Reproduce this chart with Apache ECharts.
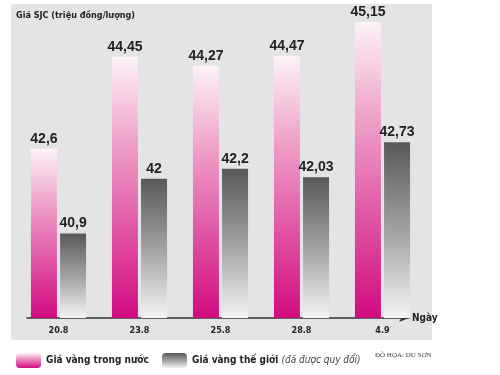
<!DOCTYPE html>
<html><head><meta charset="utf-8">
<script src="https://cdn.jsdelivr.net/npm/echarts@6/dist/echarts.min.js"></script>
<style>html,body{margin:0;padding:0;background:#fff}#c{width:500px;height:375px}</style>
</head><body><div id="c"></div>
<script>
var categories = ['20.8', '23.8', '25.8', '28.8', '4.9'];
var domestic = [42.6, 44.45, 44.27, 44.47, 45.15];
var world = [40.9, 42, 42.2, 42.03, 42.73];
var seriesNames = ['Giá vàng trong nước', 'Giá vàng thế giới'];

var FONT = '"DejaVu Sans Condensed", "Liberation Sans Narrow", sans-serif';
var LFONT = '"Liberation Sans", Arial, sans-serif';
var chart = echarts.init(document.getElementById('c'), null, {renderer: 'canvas'});
function fmt(p) { return String(p.value).replace('.', ','); }
var pinkGrad = new echarts.graphic.LinearGradient(0, 0, 0, 1, [
  {offset: 0, color: '#fdf3f8'}, {offset: 0.35, color: '#ee9bc6'}, {offset: 1, color: '#d10a80'}]);
var grayGrad = new echarts.graphic.LinearGradient(0, 0, 0, 1, [
  {offset: 0, color: '#58585a'}, {offset: 0.55, color: '#a9a9ab'}, {offset: 1, color: '#f4f4f4'}]);
var legendText = {fontFamily: FONT, fontWeight: 'bold', fontSize: 10, color: '#222',
  rich: {i: {fontStyle: 'italic', fontWeight: 'normal', fontSize: 10, color: '#444', fontFamily: FONT}}};
chart.setOption({
  animation: false,
  graphic: [
    {type: 'rect', shape: {x: 11, y: 4, width: 421, height: 336}, style: {fill: '#e4e4e6'}, z: -10},
    {type: 'text', left: 16, top: 11, style: {text: 'Giá SJC (triệu đồng/lượng)', font: 'bold 9px ' + FONT, fill: '#222'}},
    {type: 'text', left: 375, top: 352, style: {text: 'ĐỒ HỌA: DU SƠN', font: '7px "Liberation Serif", serif', fill: '#444'}}
  ],
  legend: [
    {left: 11, top: 348, itemWidth: 25, itemHeight: 15, data: [seriesNames[0]], textStyle: legendText},
    {left: 157, top: 348, itemWidth: 25, itemHeight: 15, data: [seriesNames[1]], textStyle: legendText,
      formatter: function (n) { return n + ' {i|(đã được quy đổi)}'; }}
  ],
  grid: [
    {left: 18, right: 77, top: 11, bottom: 57},
    {left: 27, right: 91, top: 11, bottom: 57}
  ],
  xAxis: [
    {type: 'category', data: categories, gridIndex: 0,
      axisLine: {show: false}, axisTick: {show: false},
      axisLabel: {fontFamily: FONT, fontWeight: 'bold', fontSize: 9, color: '#222', margin: 8}},
    {type: 'category', data: categories, gridIndex: 1,
      name: 'Ngày', nameLocation: 'end', nameGap: 3,
      nameTextStyle: {fontFamily: FONT, fontWeight: 'bold', fontSize: 10, color: '#222'},
      axisLine: {lineStyle: {color: '#333', width: 1.5}, symbol: ['none', 'arrow'], symbolSize: [6, 10]},
      axisTick: {show: false}, axisLabel: {show: false}}
  ],
  yAxis: [
    {type: 'value', min: 39.2, max: 45.37, show: false, splitLine: {show: false}, gridIndex: 0},
    {type: 'value', show: false, gridIndex: 1}
  ],
  series: [
    {name: seriesNames[0], type: 'bar', data: domestic, barWidth: 26, barGap: '12%',
      itemStyle: {color: pinkGrad},
      label: {show: true, position: 'top', distance: 3, formatter: fmt, fontFamily: LFONT, fontWeight: 'bold', fontSize: 14, color: '#222'}},
    {name: seriesNames[1], type: 'bar', data: world, barWidth: 26,
      itemStyle: {color: grayGrad},
      label: {show: true, position: 'top', distance: 3, formatter: fmt, fontFamily: LFONT, fontWeight: 'bold', fontSize: 14, color: '#222'}}
  ]
});
</script></body></html>
